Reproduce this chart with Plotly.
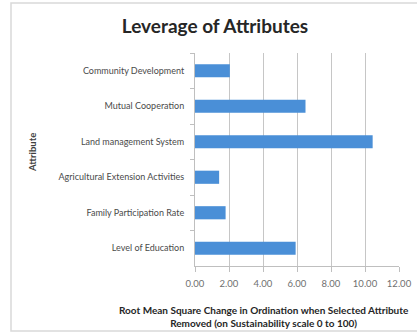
import plotly.graph_objects as go

categories = [
    "Community Development",
    "Mutual Cooperation",
    "Land management System",
    "Agricultural Extension Activities",
    "Family Participation Rate",
    "Level of Education",
]
values = [2.05, 6.5, 10.45, 1.42, 1.8, 5.92]
x_ticks = [0, 2, 4, 6, 8, 10, 12]

W, H = 417, 332
L, R, T, B = 195, 18, 53, 66
pw = W - L - R
ph = H - T - B

def px_x(p):
    return (p - L) / pw

def px_y(p):
    return (H - B - p) / ph

FONT = "Lato"

fig = go.Figure()
fig.add_trace(go.Bar(
    x=values, y=categories, orientation="h",
    marker=dict(color="#4a8fd7", line=dict(width=0)),
))

fig.update_layout(
    width=W, height=H,
    margin=dict(l=L, r=R, t=T, b=B, autoexpand=False),
    paper_bgcolor="white", plot_bgcolor="white",
    showlegend=False,
    bargap=0.63,
    font=dict(family=FONT, size=9, color="#595959"),
    title=dict(
        text="<b>Leverage of Attributes</b>",
        x=215 / W, xanchor="center",
        y=1 - 26 / H, yanchor="middle",
        font=dict(family=FONT, size=19, color="#262626"),
    ),
    xaxis=dict(
        range=[0, 12], tickvals=x_ticks, tickformat=".2f",
        showgrid=True, gridcolor="#c6c6c6", gridwidth=1,
        showline=True, linecolor="#bfbfbf", linewidth=1,
        ticks="outside", ticklen=5, tickcolor="#bfbfbf",
        zeroline=False, fixedrange=True,
        ticklabelstandoff=4,
        tickfont=dict(family=FONT, size=9.5, color="#6f6f6f"),
    ),
    yaxis=dict(
        autorange="reversed", tickson="boundaries",
        showline=True, linecolor="#bfbfbf", linewidth=1,
        ticks="outside", ticklen=4, tickcolor="#bfbfbf",
        showgrid=False, fixedrange=True,
        ticklabelstandoff=8,
        tickfont=dict(family=FONT, size=9, color="#4a4a4a"),
    ),
)

# chart area border
fig.add_shape(type="rect", xref="paper", yref="paper",
              x0=px_x(11), x1=px_x(430), y0=px_y(331), y1=px_y(3),
              line=dict(color="#d9d9d9", width=1.5), fillcolor="rgba(0,0,0,0)", layer="below")

fig.add_annotation(
    text="<b>Attribute</b>", xref="paper", yref="paper",
    x=px_x(32), y=px_y(153), textangle=-90, showarrow=False,
    font=dict(family=FONT, size=9.5, color="#404040"),
    xanchor="center", yanchor="middle",
)
fig.add_annotation(
    text="<b>Root Mean Square Change in Ordination when Selected Attribute</b><br><b>Removed (on Sustainability scale 0 to 100)</b>",
    xref="paper", yref="paper", x=px_x(264), y=px_y(316),
    showarrow=False, align="center", xanchor="center", yanchor="middle",
    font=dict(family=FONT, size=10, color="#262626"),
)

fig.write_html("out.html")
